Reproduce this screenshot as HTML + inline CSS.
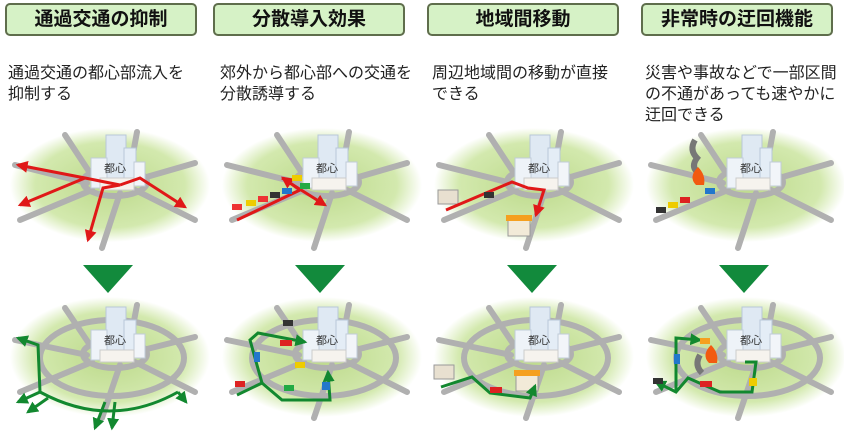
<!DOCTYPE html>
<html><head><meta charset="utf-8"><style>
body{margin:0;background:#fff;width:844px;height:435px;overflow:hidden;font-family:"Liberation Sans","Noto Sans CJK JP",sans-serif}
.h{position:absolute;top:3px;height:33px;width:192px;border:2px solid #5f6e4c;border-radius:5px;background:#d6f2c6;box-sizing:border-box;text-align:center;font-weight:bold;font-size:19px;line-height:29px;color:#111}
.d{position:absolute;top:63px;font-size:16px;line-height:21px;color:#222;width:210px;white-space:nowrap}
svg{position:absolute;left:0;top:0}
</style></head><body>
<svg width="844" height="435" viewBox="0 0 844 435">
<defs>
<radialGradient id="g" cx="50%" cy="50%" r="50%"><stop offset="0" stop-color="#bcd98a"/><stop offset=".75" stop-color="#d3e9ae"/><stop offset="1" stop-color="#fff"/></radialGradient>
<g id="bld">
<ellipse cx="115" cy="182" rx="32" ry="14" fill="none" stroke="#b0b0b0" stroke-width="6"/>
<rect x="106" y="135" width="20" height="52" fill="#dfe9f3" stroke="#b8c8d8"/>
<rect x="91" y="158" width="16" height="30" fill="#eef3f8" stroke="#c0ccd8"/>
<rect x="124" y="148" width="12" height="38" fill="#e4edf6" stroke="#b8c8d8"/>
<rect x="134" y="162" width="11" height="24" fill="#f2f5f9" stroke="#c0ccd8"/>
<rect x="100" y="178" width="34" height="12" fill="#f6f3ee" stroke="#ccc"/>
<text x="104" y="172" font-size="11" fill="#333">都心</text>
</g>
<g id="top">
<ellipse cx="110" cy="185" rx="100" ry="57" fill="url(#g)"/>
<g stroke="#b0b0b0" stroke-width="6" fill="none" stroke-linecap="round">
<path d="M90 173 L65 135"/><path d="M130 170 L137 132"/><path d="M143 178 L195 163"/><path d="M135 190 L195 220"/><path d="M120 193 L102 248"/><path d="M87 183 L15 165"/><path d="M92 190 L20 220"/>
</g>
<use href="#bld"/>
</g>
<g id="bot">
<ellipse cx="110" cy="357" rx="100" ry="60" fill="url(#g)"/>
<g stroke="#b0b0b0" stroke-width="6" fill="none" stroke-linecap="round">
<ellipse cx="112" cy="358" rx="72" ry="38"/>
<path d="M90 345 L65 308"/><path d="M130 342 L137 305"/><path d="M143 350 L195 337"/><path d="M135 362 L195 392"/><path d="M120 365 L102 418"/><path d="M87 355 L15 340"/><path d="M92 362 L20 392"/>
</g>
<use href="#bld" transform="translate(0,172)"/>
</g>
<polygon id="tri" points="83,265 133,265 108,293" fill="#128a3c"/>
<marker id="ar" viewBox="0 0 10 10" refX="8" refY="5" markerWidth="4" markerHeight="4" orient="auto"><path d="M0 0L10 5L0 10z" fill="#e01818"/></marker>
<marker id="ag" viewBox="0 0 10 10" refX="8" refY="5" markerWidth="4" markerHeight="4" orient="auto"><path d="M0 0L10 5L0 10z" fill="#12882f"/></marker>
</defs>
<use href="#top"/><use href="#tri"/><use href="#bot"/>
<use href="#top" x="212"/><use href="#tri" x="212"/><use href="#bot" x="212"/>
<use href="#top" x="424"/><use href="#tri" x="424"/><use href="#bot" x="424"/>
<use href="#top" x="636"/><use href="#tri" x="636"/><use href="#bot" x="636"/>
<g stroke="#e01818" stroke-width="3" fill="none">
<path d="M120 185 L85 178 L18 165" marker-end="url(#ar)"/>
<path d="M85 178 L20 205" marker-end="url(#ar)"/>
<path d="M120 185 L103 188 L88 240" marker-end="url(#ar)"/>
<path d="M120 185 L140 178 L185 207" marker-end="url(#ar)"/>
</g>
<g stroke="#12882f" stroke-width="3" fill="none">
<path d="M40 392 Q110 430 178 392" />
<path d="M40 392 L38 345 L18 338" marker-end="url(#ag)"/>
<path d="M40 392 L18 402" marker-end="url(#ag)"/>
<path d="M48 398 L28 412" marker-end="url(#ag)"/>
<path d="M105 402 L95 428" marker-end="url(#ag)"/>
<path d="M115 402 L112 428" marker-end="url(#ag)"/>
<path d="M178 392 L186 402" marker-end="url(#ag)"/>
</g>
<g stroke="#e01818" stroke-width="3" fill="none">
<path d="M237 220 L300 190" /><path d="M282 178 L325 205" marker-end="url(#ar)"/><path d="M300 190 L283 178" marker-end="url(#ar)"/>
</g>
<g fill="#e33"><rect x="232" y="204" width="10" height="6"/><rect x="246" y="200" width="10" height="6" fill="#ec0"/><rect x="258" y="196" width="10" height="6"/><rect x="270" y="192" width="10" height="6" fill="#333"/><rect x="282" y="188" width="10" height="6" fill="#27c"/><rect x="300" y="183" width="10" height="6" fill="#2a4"/><rect x="292" y="175" width="10" height="6" fill="#ec0"/></g>
<g stroke="#12882f" stroke-width="3" fill="none">
<path d="M237 395 L262 383 L282 400 L330 400 L328 372" marker-end="url(#ag)"/>
<path d="M262 383 L250 340 L258 333 L305 342" marker-end="url(#ag)"/>
</g>
<g><rect x="283" y="320" width="10" height="6" fill="#333"/><rect x="280" y="340" width="12" height="6" fill="#d22"/><rect x="254" y="352" width="6" height="10" fill="#27c"/><rect x="295" y="362" width="10" height="6" fill="#ec0"/><rect x="284" y="385" width="10" height="6" fill="#2a4"/><rect x="235" y="381" width="10" height="6" fill="#d22"/><rect x="322" y="382" width="8" height="8" fill="#27c"/></g>
<rect x="438" y="190" width="20" height="14" fill="#e8e0d0" stroke="#999"/>
<rect x="508" y="220" width="22" height="16" fill="#f2ead8" stroke="#999"/><rect x="506" y="215" width="26" height="6" fill="#f5a020"/>
<g stroke="#e01818" stroke-width="3" fill="none"><path d="M446 210 L512 182 L528 188 L544 190 L536 215" marker-end="url(#ar)"/></g>
<rect x="484" y="192" width="10" height="6" fill="#333"/>
<rect x="434" y="365" width="20" height="14" fill="#e8e0d0" stroke="#999"/>
<rect x="516" y="375" width="22" height="16" fill="#f2ead8" stroke="#999"/><rect x="514" y="370" width="26" height="6" fill="#f5a020"/>
<g stroke="#12882f" stroke-width="3" fill="none"><path d="M441 387 L472 377 L490 393 L530 398 L535 386" marker-end="url(#ag)"/></g>
<rect x="490" y="387" width="12" height="6" fill="#d22"/>
<path d="M695 140 q-6 10 2 18 q-6 8 0 14" stroke="#777" stroke-width="6" fill="none"/>
<path d="M696 185 q-8 -8 2 -18 q8 8 6 18z" fill="#f25a10"/>
<g><rect x="656" y="207" width="10" height="6" fill="#333"/><rect x="668" y="202" width="10" height="6" fill="#ec0"/><rect x="680" y="197" width="10" height="6" fill="#d22"/><rect x="705" y="188" width="10" height="6" fill="#27c"/></g>
<path d="M700 355 q-6 10 2 18" stroke="#777" stroke-width="6" fill="none"/>
<path d="M709 363 q-8 -8 2 -18 q8 8 6 18z" fill="#f25a10"/>
<g stroke="#12882f" stroke-width="3" fill="none">
<path d="M745 362 L756 362 L752 392 L720 392 L688 378 L676 392 L656 382" marker-end="url(#ag)"/>
<path d="M676 392 L676 338 L700 340" marker-end="url(#ag)"/>
</g>
<g><rect x="653" y="378" width="10" height="6" fill="#333"/><rect x="674" y="354" width="6" height="10" fill="#27c"/><rect x="700" y="338" width="10" height="6" fill="#f5a020"/><rect x="700" y="381" width="12" height="6" fill="#d22"/><rect x="749" y="378" width="8" height="8" fill="#ec0"/></g>
</svg>
<div class="h" style="left:5px">通過交通の抑制</div>
<div class="h" style="left:213px">分散導入効果</div>
<div class="h" style="left:427px">地域間移動</div>
<div class="h" style="left:641px">非常時の迂回機能</div>
<div class="d" style="left:8px">通過交通の都心部流入を<br>抑制する</div>
<div class="d" style="left:220px">郊外から都心部への交通を<br>分散誘導する</div>
<div class="d" style="left:432px">周辺地域間の移動が直接<br>できる</div>
<div class="d" style="left:645px">災害や事故などで一部区間<br>の不通があっても速やかに<br>迂回できる</div>
</body></html>
